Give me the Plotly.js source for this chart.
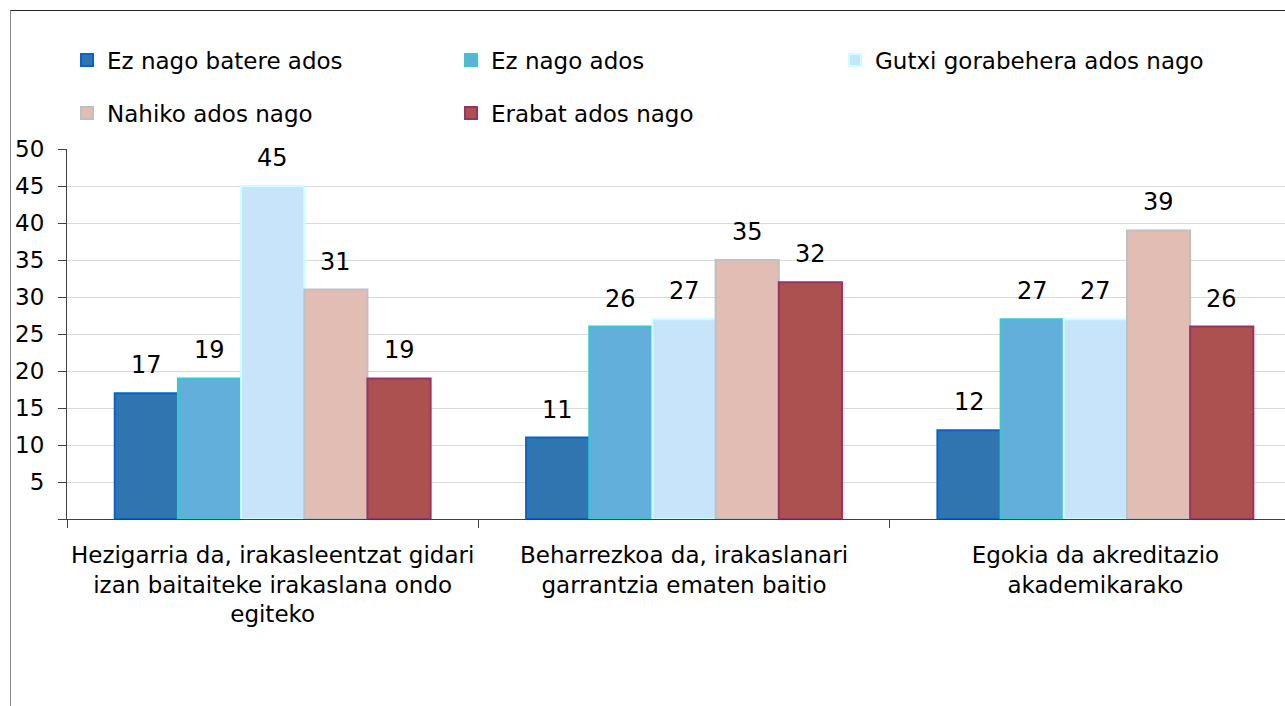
<!DOCTYPE html>
<html>
<head>
<meta charset="utf-8">
<script src="https://cdn.plot.ly/plotly-3.0.1.min.js"></script>
<style>
  html, body { margin: 0; padding: 0; background: #ffffff; overflow: hidden; }
  #frame { position: absolute; left: 10px; top: 10px; width: 2000px; height: 2000px;
           border-left: 1px solid #868686; border-top: 1px solid #262626; }
  #chart { position: absolute; left: 0; top: 0; width: 1285px; height: 706px; }
</style>
</head>
<body>
<div id="frame"></div>
<div id="chart"></div>
<script>
const categories = [
  "Hezigarria da, irakasleentzat gidari<br>izan baitaiteke irakaslana ondo<br>egiteko",
  "Beharrezkoa da, irakaslanari<br>garrantzia ematen baitio",
  "Egokia da akreditazio<br>akademikarako"
];
const seriesNames = ["Ez nago batere ados", "Ez nago ados", "Gutxi gorabehera ados nago", "Nahiko ados nago", "Erabat ados nago"];
const ezBatere = [17, 11, 12];
const ezAdos = [19, 26, 27];
const gutxiGorabehera = [45, 27, 27];
const nahikoAdos = [31, 35, 39];
const erabatAdos = [19, 32, 26];
const yTickVals = [0, 5, 10, 15, 20, 25, 30, 35, 40, 45, 50];
const yTickText = ["", "5", "10", "15", "20", "25", "30", "35", "40", "45", "50"];

const fills = ["#3175B0", "#63AFDC", "#C8E4FA", "#E2BDB4", "#AD5050"];
const outlines = ["#0066CC", "#33CCCC", "#CCFFFF", "#C0C0C0", "#993366"];
const values = [ezBatere, ezAdos, gutxiGorabehera, nahikoAdos, erabatAdos];
const legendRefs = ["legend", "legend", "legend", "legend2", "legend2"];

const FONT = "DejaVu Sans";
const BARGAP = 0.232;
const nSeries = values.length;
const barW = (1 - BARGAP) / nSeries;

const traces = values.map((v, i) => ({
  type: "bar",
  name: seriesNames[i],
  x: categories,
  y: v,
  marker: { color: fills[i], line: { color: outlines[i], width: 2 } },
  legend: legendRefs[i],
  hoverinfo: "none"
}));

// value labels placed at each bar's top via the data axes
const annotations = [];
values.forEach((v, i) => {
  v.forEach((val, c) => {
    annotations.push({
      xref: "x", yref: "y",
      x: c + (i - (nSeries - 1) / 2) * barW,
      y: val,
      text: String(val),
      showarrow: false,
      xanchor: "center", yanchor: "bottom",
      yshift: 12,
      font: { family: FONT, size: 24, color: "#000000" }
    });
  });
});

const legendCommon = {
  orientation: "h",
  xref: "paper", yref: "paper",
  xanchor: "left", yanchor: "middle",
  x: 0,
  entrywidth: 339, entrywidthmode: "pixels",
  font: { family: FONT, size: 23, color: "#000000" },
  bgcolor: "rgba(0,0,0,0)",
  borderwidth: 0,
  traceorder: "normal"
};

const layout = {
  width: 1285, height: 706,
  margin: { l: 67, r: 0, t: 149, b: 187, pad: 0 },
  paper_bgcolor: "rgba(0,0,0,0)",
  plot_bgcolor: "rgba(0,0,0,0)",
  font: { family: FONT, size: 23, color: "#000000" },
  barmode: "group",
  bargap: BARGAP,
  bargroupgap: 0,
  showlegend: true,
  legend: Object.assign({}, legendCommon, { y: 1.2405 }),
  legend2: Object.assign({}, legendCommon, { y: 1.097 }),
  annotations: annotations,
  xaxis: {
    type: "category",
    range: [-0.5, 2.461],
    tickson: "boundaries",
    tickangle: 0,
    ticks: "outside", ticklen: 8, tickcolor: "#404040", tickwidth: 1,
    showline: true, linecolor: "#404040", linewidth: 1,
    showgrid: false,
    tickfont: { family: FONT, size: 23, color: "#000000" },
    ticklabelstandoff: 15,
    fixedrange: true
  },
  yaxis: {
    range: [0, 50],
    tickmode: "array", tickvals: yTickVals, ticktext: yTickText,
    ticks: "outside", ticklen: 8, tickcolor: "#404040", tickwidth: 1,
    showline: true, linecolor: "#404040", linewidth: 1,
    showgrid: true, gridcolor: "#D9D9D9", gridwidth: 1,
    zeroline: false,
    tickfont: { family: FONT, size: 23, color: "#000000" },
    ticklabelstandoff: 9,
    fixedrange: true
  }
};

Plotly.newPlot("chart", traces, layout, { displayModeBar: false, staticPlot: true });
</script>
</body>
</html>
